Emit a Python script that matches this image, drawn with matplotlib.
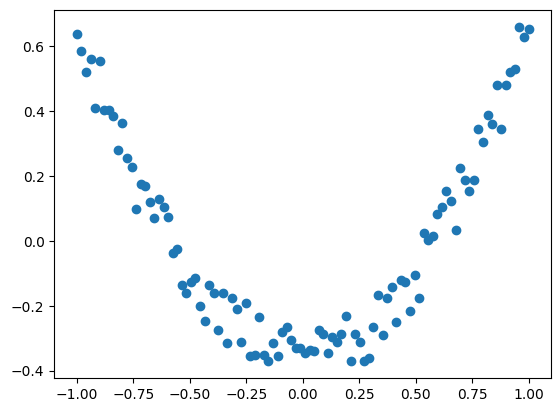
import numpy as np
import matplotlib
matplotlib.use("Agg")
import matplotlib.pyplot as plt

y = [0.64,0.585,0.52,0.56,0.41,0.555,0.405,0.405,0.385,0.28,
     0.365,0.255,0.23,0.10,0.175,0.17,0.12,0.07,0.13,0.105,
     0.075,-0.035,-0.025,-0.135,-0.16,-0.125,-0.115,-0.20,-0.245,-0.135,
     -0.16,-0.275,-0.16,-0.315,-0.175,-0.21,-0.31,-0.19,-0.355,-0.35,
     -0.235,-0.35,-0.37,-0.315,-0.355,-0.28,-0.265,-0.305,-0.33,-0.33,
     -0.345,-0.335,-0.34,-0.275,-0.285,-0.345,-0.295,-0.31,-0.285,-0.23,
     -0.37,-0.285,-0.31,-0.37,-0.36,-0.265,-0.165,-0.29,-0.175,-0.14,
     -0.25,-0.12,-0.125,-0.215,-0.105,-0.175,0.025,0.005,0.015,0.085,
     0.105,0.155,0.125,0.035,0.225,0.19,0.155,0.19,0.345,0.305,
     0.39,0.36,0.48,0.345,0.48,0.52,0.53,0.66,0.63,0.655]
x = np.linspace(-1, 1, len(y))

fig, ax = plt.subplots(figsize=(5.59, 4.13), dpi=100)
ax.scatter(x, y)
fig.subplots_adjust(left=0.097, right=0.986, bottom=0.085, top=0.975)
fig.savefig("out.png")
